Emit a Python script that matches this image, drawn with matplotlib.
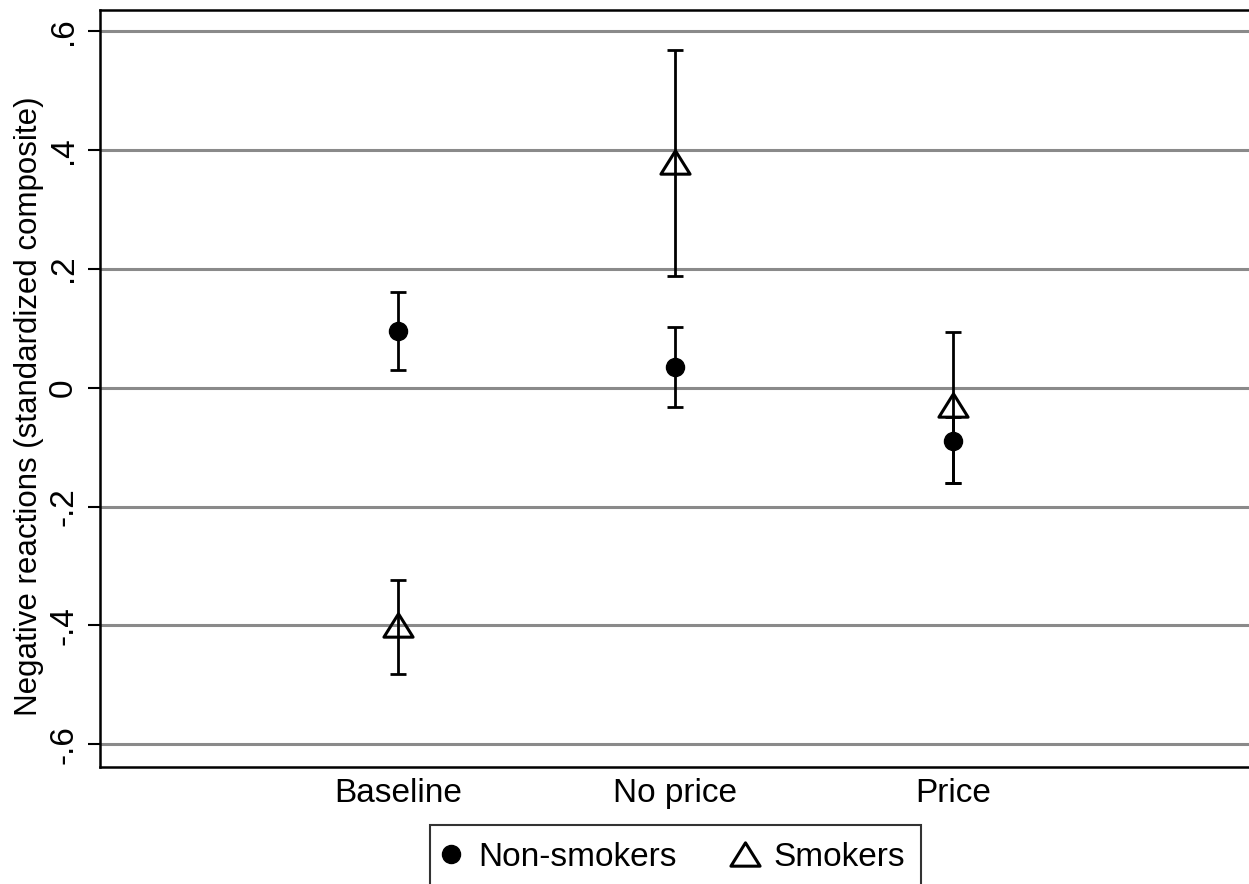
import numpy as np
import matplotlib.pyplot as plt
from matplotlib.path import Path

plt.rcParams['font.family'] = ['Liberation Sans', 'DejaVu Sans']

conditions = ["Baseline", "No price", "Price"]

nonsmoker_mean = [0.095, 0.035, -0.090]
nonsmoker_lo = [0.030, -0.032, -0.161]
nonsmoker_hi = [0.160, 0.102, -0.049]

smoker_mean = [-0.400, 0.380, -0.030]
smoker_lo = [-0.482, 0.187, -0.161]
smoker_hi = [-0.324, 0.568, 0.094]

yticks = [-0.6, -0.4, -0.2, 0, 0.2, 0.4, 0.6]
ytick_labels = ["-.6", "-.4", "-.2", "0", ".2", ".4", ".6"]

tri = Path([(-1, -0.8), (1, -0.8), (0, 0.8), (-1, -0.8)],
           [Path.MOVETO, Path.LINETO, Path.LINETO, Path.CLOSEPOLY])

fig = plt.figure(figsize=(12.49, 8.84), dpi=100)
ax = fig.add_axes([100 / 1249, 1 - 767 / 884, 1 - 100 / 1249, (767 - 10) / 884])

x = np.arange(len(conditions))
for y in yticks:
    ax.axhline(y, color="#8a8a8a", lw=2.2, zorder=0)

def err(mean, lo, hi):
    m = np.array(mean)
    return [m - np.array(lo), np.array(hi) - m]

ax.errorbar(x, smoker_mean, yerr=err(smoker_mean, smoker_lo, smoker_hi),
            fmt="none", ecolor="black", elinewidth=2.0, capsize=6, capthick=2.0, zorder=2)
ax.errorbar(x, nonsmoker_mean, yerr=err(nonsmoker_mean, nonsmoker_lo, nonsmoker_hi),
            fmt="none", ecolor="black", elinewidth=2.0, capsize=6, capthick=2.0, zorder=2)
ax.plot(x, nonsmoker_mean, ls="none", marker="o", ms=13, color="black",
        label="Non-smokers", zorder=3)
ax.plot(x, smoker_mean, ls="none", marker=tri, ms=21, mfc="none", mec="black",
        mew=2.2, label="Smokers", zorder=4)

ax.set_xlim(-1.074, 3.067)
ax.set_ylim(-0.638, 0.635)
ax.set_xticks(x)
ax.set_xticklabels(conditions, fontsize=24)
ax.tick_params(axis="x", length=0, pad=8)
ax.set_yticks(yticks)
ax.set_yticklabels(ytick_labels, fontsize=24, rotation=90, va="center")
ax.tick_params(axis="y", length=9, width=1.5, pad=6)
ax.set_ylabel("Negative reactions (standardized composite)", fontsize=22.5, labelpad=3)
ax.yaxis.label.set_y(0.476)

for s in ["top", "left", "bottom"]:
    ax.spines[s].set_linewidth(1.8)
ax.spines["right"].set_visible(False)

leg = fig.legend(loc="upper center", bbox_to_anchor=(675.5 / 1249, 1 - 825 / 884),
                 ncol=2, fontsize=24, frameon=True, fancybox=False, edgecolor="black",
                 handlelength=0.26, handletextpad=0.71, columnspacing=1.91,
                 borderpad=0.5, borderaxespad=0)
leg.get_frame().set_linewidth(1.5)

fig.savefig("out.png", dpi=100)
